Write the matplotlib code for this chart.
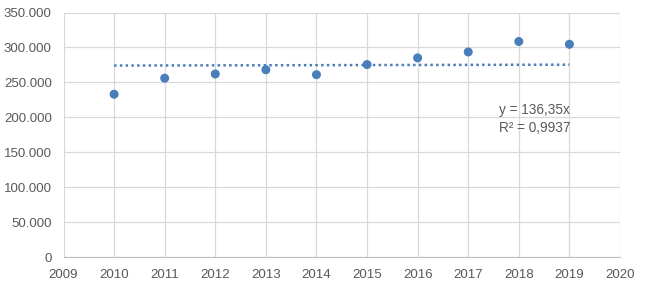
import matplotlib.pyplot as plt
from matplotlib.ticker import FuncFormatter

years = [2010, 2011, 2012, 2013, 2014, 2015, 2016, 2017, 2018, 2019]
values = [233000, 256000, 262000, 268000, 261000, 275500, 285000, 293500, 308500, 304500]
slope = 136.35
r2_text = 'y = 136,35x\nR² = 0,9937'

plt.rcParams['font.family'] = ['Liberation Sans', 'DejaVu Sans']

fig = plt.figure(figsize=(6.48, 2.93), dpi=100)
ax = fig.add_axes([63.5 / 648, 1 - 257 / 293, (620 - 63.5) / 648, (257 - 12.5) / 293])

trend_x = [years[0], years[-1]]
trend_y = [slope * x for x in trend_x]
ax.plot(trend_x, trend_y, linestyle=(0, (1, 1.3)), color='#4A7EBB', lw=1.8, zorder=2)
ax.scatter(years, values, s=42, color='#4A7EBB', zorder=3, edgecolors='none')

ax.set_xlim(2009, 2020)
ax.set_ylim(0, 350000)
ax.set_xticks(range(2009, 2021))
ax.set_yticks(range(0, 350001, 50000))
ax.yaxis.set_major_formatter(FuncFormatter(lambda v, p: f'{v:,.0f}'.replace(',', '.')))

ax.grid(True, color='#D9D9D9', lw=0.9, zorder=0)
for s in ['top', 'right', 'left']:
    ax.spines[s].set_visible(False)
ax.spines['bottom'].set_color('#BFBFBF')
ax.tick_params(length=0, labelsize=9.5, colors='#595959')
ax.tick_params(axis='y', pad=8.5)
ax.tick_params(axis='x', pad=9)

ax.text(2017.6, 197000, r2_text, fontsize=9.8, color='#595959', va='center', ha='left',
        linespacing=1.35)

plt.savefig('out.png', dpi=100)
